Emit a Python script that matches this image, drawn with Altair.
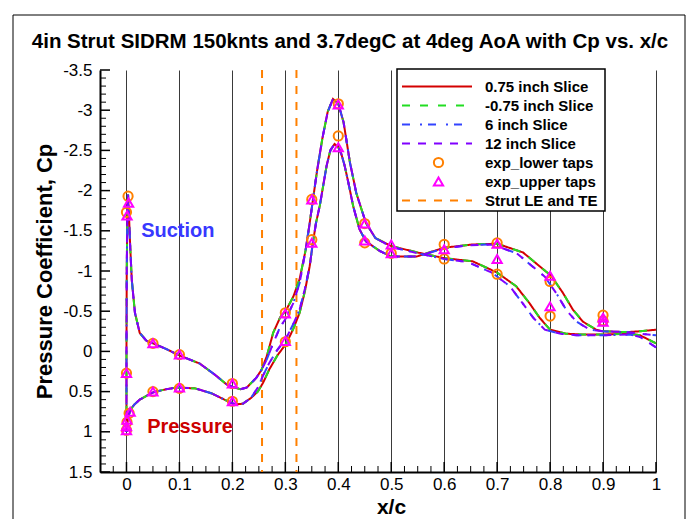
import altair as alt
import pandas as pd

FONT = "Liberation Sans"

TITLE = "4in Strut SIDRM 150knts and 3.7degC at 4deg AoA with Cp vs. x/c"
SERIES = ["0.75 inch Slice", "-0.75 inch Slice", "6 inch Slice", "12 inch Slice"]
LINE_COLORS = ["#d40000", "#22dd22", "#3344ff", "#8000ff"]
LINE_DASHES = [[1, 0], [8, 10], [8, 10, 2, 6], [8, 8]]
TAPS = ["exp_lower taps", "exp_upper taps"]
TAP_COLORS = ["#ff8000", "#ff00ff"]
TAP_SHAPES = ["circle", "triangle-up"]
STRUT_LABEL = "Strut LE and TE"

# ---- CFD slices: 0.75 / -0.75 inch (read as coincident) ----
near_suc_x = [1.0, 0.97, 0.95, 0.9, 0.86, 0.83, 0.8, 0.78, 0.761, 0.736, 0.7, 0.654, 0.6, 0.55,
              0.5, 0.47, 0.452, 0.434, 0.422, 0.41, 0.4, 0.39, 0.38, 0.37, 0.36, 0.352, 0.345,
              0.338, 0.327, 0.315, 0.302, 0.29, 0.277, 0.265, 0.255, 0.245, 0.227, 0.215, 0.2,
              0.189, 0.167, 0.138, 0.1, 0.075, 0.05, 0.038, 0.025, 0.016, 0.01, 0.007, 0.005,
              0.003, 0.0015, 0.0005, 0.0, 0.0, 0.0]
near_suc_cp = [-0.1, -0.2, -0.22, -0.21, -0.21, -0.22, -0.27, -0.42, -0.6, -0.81, -0.98, -1.12,
               -1.16, -1.23, -1.31, -1.41, -1.6, -1.97, -2.35, -2.85, -3.08, -3.14, -2.98, -2.65,
               -2.25, -1.88, -1.55, -1.25, -0.9, -0.68, -0.52, -0.42, -0.23, 0.06, 0.23, 0.33,
               0.45, 0.47, 0.44, 0.41, 0.29, 0.15, 0.05, -0.03, -0.1, -0.13, -0.23, -0.48, -0.89,
               -1.31, -1.65, -1.95, -1.6, -1.0, 0.0, 0.6, 1.0]
near_pre_x = [0.0, 0.001, 0.003, 0.007, 0.015, 0.025, 0.05, 0.075, 0.095, 0.13, 0.16, 0.185,
              0.205, 0.22, 0.235, 0.248, 0.258, 0.27, 0.285, 0.302, 0.315, 0.327, 0.337, 0.346,
              0.352, 0.358, 0.365, 0.372, 0.378, 0.385, 0.393, 0.4, 0.406, 0.412, 0.42, 0.428,
              0.44, 0.452, 0.478, 0.5, 0.548, 0.6, 0.654, 0.7, 0.749, 0.78, 0.802, 0.824, 0.843,
              0.862, 0.887, 0.9, 0.944, 0.97, 1.0]
near_pre_cp = [1.0, 0.93, 0.83, 0.73, 0.66, 0.6, 0.51, 0.47, 0.45, 0.46, 0.52, 0.6, 0.66, 0.65,
               0.58, 0.5, 0.39, 0.22, 0.05, -0.1, -0.28, -0.48, -0.75, -1.06, -1.35, -1.6, -1.81,
               -2.08, -2.31, -2.5, -2.58, -2.54, -2.45, -2.31, -2.07, -1.81, -1.52, -1.37, -1.25,
               -1.18, -1.18, -1.29, -1.33, -1.34, -1.23, -1.06, -0.94, -0.73, -0.52, -0.37, -0.27,
               -0.25, -0.24, -0.25, -0.27]

# ---- CFD slices: 6 / 12 inch (read as coincident) ----
far_suc_x = [1.0, 0.97, 0.95, 0.9, 0.85, 0.82, 0.79, 0.768, 0.748, 0.724, 0.69, 0.645, 0.6, 0.55,
             0.5, 0.47, 0.452, 0.434, 0.422, 0.41, 0.4, 0.39, 0.38, 0.37, 0.36, 0.352, 0.345,
             0.338, 0.327, 0.315, 0.302, 0.29, 0.277, 0.265, 0.255, 0.245, 0.227, 0.215, 0.2,
             0.189, 0.167, 0.138, 0.1, 0.075, 0.05, 0.038, 0.025, 0.016, 0.01, 0.007, 0.005,
             0.003, 0.0015, 0.0005, 0.0, 0.0, 0.0]
far_suc_cp = [-0.05, -0.18, -0.21, -0.2, -0.2, -0.22, -0.27, -0.42, -0.6, -0.81, -0.98, -1.11,
              -1.15, -1.22, -1.3, -1.41, -1.6, -1.97, -2.35, -2.85, -3.08, -3.14, -2.98, -2.65,
              -2.25, -1.88, -1.55, -1.25, -0.85, -0.6, -0.42, -0.3, -0.1, 0.1, 0.23, 0.33, 0.45,
              0.47, 0.44, 0.41, 0.29, 0.15, 0.05, -0.03, -0.1, -0.13, -0.23, -0.48, -0.89, -1.31,
              -1.65, -1.95, -1.6, -1.0, 0.0, 0.6, 1.0]
far_pre_x = [0.0, 0.001, 0.003, 0.007, 0.015, 0.025, 0.05, 0.075, 0.095, 0.13, 0.16, 0.185,
             0.205, 0.22, 0.235, 0.248, 0.258, 0.27, 0.285, 0.302, 0.315, 0.327, 0.337, 0.346,
             0.352, 0.358, 0.365, 0.372, 0.378, 0.385, 0.393, 0.4, 0.406, 0.412, 0.42, 0.428,
             0.44, 0.452, 0.478, 0.5, 0.548, 0.6, 0.645, 0.69, 0.737, 0.768, 0.79, 0.812, 0.831,
             0.85, 0.875, 0.9, 0.944, 0.97, 1.0]
far_pre_cp = [1.0, 0.93, 0.83, 0.73, 0.66, 0.6, 0.51, 0.47, 0.45, 0.46, 0.52, 0.6, 0.66, 0.65,
              0.58, 0.45, 0.3, 0.14, -0.02, -0.17, -0.34, -0.52, -0.78, -1.06, -1.35, -1.6, -1.81,
              -2.08, -2.31, -2.5, -2.58, -2.54, -2.45, -2.31, -2.07, -1.81, -1.52, -1.37, -1.25,
              -1.18, -1.18, -1.28, -1.32, -1.33, -1.22, -1.05, -0.93, -0.72, -0.51, -0.37, -0.27,
              -0.25, -0.24, -0.22, -0.2]

# ---- experimental taps ----
lower_x = [0.003, 0.0, 0.0, 0.005, 0.001, 0.0, 0.05, 0.05, 0.1, 0.1, 0.2, 0.2, 0.3, 0.3, 0.35,
           0.35, 0.4, 0.4, 0.45, 0.45, 0.5, 0.6, 0.6, 0.7, 0.7, 0.8, 0.8, 0.9, 0.9]
lower_cp = [-1.93, -1.73, 0.27, 0.77, 0.88, 0.98, -0.1, 0.5, 0.04, 0.46, 0.4, 0.62, -0.48, -0.12,
            -1.89, -1.39, -3.08, -2.68, -1.59, -1.35, -1.22, -1.33, -1.15, -1.35, -0.96, -0.87,
            -0.44, -0.45, -0.38]
upper_x = [0.004, 0.001, 0.0, 0.007, 0.001, 0.0, 0.0, 0.05, 0.05, 0.1, 0.1, 0.2, 0.2, 0.3, 0.3,
           0.35, 0.35, 0.4, 0.4, 0.45, 0.45, 0.5, 0.5, 0.6, 0.7, 0.7, 0.8, 0.8, 0.9, 0.9]
upper_cp = [-1.85, -1.69, 0.27, 0.75, 0.85, 0.93, 0.98, -0.1, 0.5, 0.04, 0.45, 0.4, 0.62, -0.47,
            -0.13, -1.89, -1.35, -3.07, -2.54, -1.59, -1.38, -1.33, -1.22, -1.27, -1.34, -1.15,
            -0.94, -0.56, -0.42, -0.37]

strut_x = [0.256, 0.321]

note_text = ["Suction", "Pressure"]
note_x = [0.097, 0.12]
note_cp = [-1.5, 0.94]

XT_MAJOR = [0, 0.1, 0.2, 0.3, 0.4, 0.5, 0.6, 0.7, 0.8, 0.9, 1]
XT_MINOR = [-0.025] + [round(i * 0.1 + k * 0.025, 3) for i in range(10) for k in (1, 2, 3)]
YT_MAJOR = [-3.5, -3, -2.5, -2, -1.5, -1, -0.5, 0, 0.5, 1, 1.5]
YT_MINOR = [round(-3.5 + i * 0.1, 2) for i in range(51) if i % 5 != 0]

W, H = 556, 402

xscale = alt.Scale(domain=[-0.05, 1.0], nice=False, zero=False)
yscale = alt.Scale(domain=[-3.5, 1.5], reverse=True, nice=False, zero=False)


def surf_df(name, xs, cps, surf):
    return pd.DataFrame({"x": xs, "cp": cps, "series": name, "surface": surf,
                         "idx": list(range(len(xs)))})


groups = {
    SERIES[0]: (near_suc_x, near_suc_cp, near_pre_x, near_pre_cp),
    SERIES[1]: (near_suc_x, near_suc_cp, near_pre_x, near_pre_cp),
    SERIES[2]: (far_suc_x, far_suc_cp, far_pre_x, far_pre_cp),
    SERIES[3]: (far_suc_x, far_suc_cp, far_pre_x, far_pre_cp),
}


def make_legend(lx, ly, stroke, label_offset, row_pad):
    kw = dict(orient="none", legendX=lx, legendY=ly, title=None, padding=0, clipHeight=15,
              symbolStrokeWidth=2, labelOffset=label_offset, rowPadding=row_pad, labelFont=FONT,
              labelFontSize=15, labelFontWeight="bold", labelColor="black", labelLimit=300)
    if stroke:
        kw.update(symbolType="stroke", symbolSize=4900)
    else:
        kw.update(symbolSize=85)
    return alt.Legend(**kw)


line_legend = make_legend(301, 9, True, 12, 3)
tap_legend = make_legend(331, 85, False, 39, 3)
strut_legend = make_legend(301, 123, True, 12, 3)

line_layers = []
for name in SERIES:
    sx, scp, px, pcp = groups[name]
    df = pd.concat([surf_df(name, sx, scp, "suction"), surf_df(name, px, pcp, "pressure")])
    line_layers.append(
        alt.Chart(df).mark_line(strokeWidth=2).encode(
            x=alt.X("x:Q", scale=xscale, axis=None),
            y=alt.Y("cp:Q", scale=yscale, axis=None),
            order="idx:Q",
            detail="surface:N",
            color=alt.Color("series:N", scale=alt.Scale(domain=SERIES, range=LINE_COLORS),
                            legend=line_legend),
            strokeDash=alt.StrokeDash("series:N",
                                      scale=alt.Scale(domain=SERIES, range=LINE_DASHES),
                                      legend=line_legend),
        )
    )
lines = alt.layer(*line_layers)

taps_df = pd.concat([
    pd.DataFrame({"x": lower_x, "cp": lower_cp, "tap": TAPS[0]}),
    pd.DataFrame({"x": upper_x, "cp": upper_cp, "tap": TAPS[1]}),
])
points = alt.Chart(taps_df).mark_point(filled=False, strokeWidth=2, size=85, opacity=1).encode(
    x=alt.X("x:Q", scale=xscale, axis=None),
    y=alt.Y("cp:Q", scale=yscale, axis=None),
    color=alt.Color("tap:N", scale=alt.Scale(domain=TAPS, range=TAP_COLORS), legend=tap_legend),
    shape=alt.Shape("tap:N", scale=alt.Scale(domain=TAPS, range=TAP_SHAPES), legend=tap_legend),
)

strut_df = pd.DataFrame({"x": strut_x, "lbl": STRUT_LABEL})
strut = alt.Chart(strut_df).mark_rule(strokeWidth=2).encode(
    x=alt.X("x:Q", scale=xscale, axis=None),
    color=alt.Color("lbl:N", scale=alt.Scale(domain=[STRUT_LABEL], range=["#ff8000"]),
                    legend=strut_legend),
    strokeDash=alt.StrokeDash("lbl:N", scale=alt.Scale(domain=[STRUT_LABEL], range=[[8, 8]]),
                              legend=strut_legend),
)

notes_df = pd.DataFrame({"x": note_x, "cp": note_cp, "t": note_text})


def note(i, color):
    return alt.Chart(notes_df.iloc[[i]]).mark_text(
        font=FONT, fontSize=20, fontWeight="bold", color=color, align="center",
        baseline="middle").encode(
        x=alt.X("x:Q", scale=xscale, axis=None),
        y=alt.Y("cp:Q", scale=yscale, axis=None), text="t:N")


note_suction = note(0, "#3838ff")
note_pressure = note(1, "#cc0000")

# ---- axes with labels ----
axis_df = pd.DataFrame({"x": [0.0, 1.0], "cp": [0.0, 0.0]})
lab_axes = alt.Chart(axis_df).mark_point(opacity=0).encode(
    x=alt.X("x:Q", scale=xscale, axis=alt.Axis(
        orient="bottom", values=XT_MAJOR, ticks=False, tickSize=0, labelPadding=4,
        labelExpr="'' + datum.value", labelFont=FONT, labelFontSize=17, labelColor="black",
        labelFlush=False, labelOverlap=False, domain=True, domainColor="black", domainWidth=2,
        grid=True, gridColor="#3a3a3a", gridWidth=1, title="x/c", titleFont=FONT,
        titleFontSize=21, titleFontWeight="bold", titleColor="black", titleX=291, titleY=35,
        titleAlign="center", titleBaseline="middle")),
    y=alt.Y("cp:Q", scale=yscale, axis=alt.Axis(
        orient="left", values=YT_MAJOR, ticks=False, tickSize=0, labelPadding=8,
        labelExpr="'' + datum.value", labelFont=FONT, labelFontSize=17, labelColor="black",
        labelFlush=False, labelOverlap=False, domain=True, domainColor="black", domainWidth=2,
        grid=False, title="Pressure Coefficient, Cp", titleFont=FONT, titleFontSize=22,
        titleFontWeight="bold", titleColor="black", titleX=-56, titleY=201, titleAngle=270,
        titleAlign="center", titleBaseline="middle")),
)


# ---- inward tick marks, placed through the scales ----
def xticks(vals, length, width):
    return alt.Chart(pd.DataFrame({"v": vals})).mark_rule(
        color="black", strokeWidth=width).encode(
        x=alt.X("v:Q", scale=xscale, axis=None), y=alt.value(H), y2=alt.value(H - length))


def yticks(vals, length, width):
    return alt.Chart(pd.DataFrame({"v": vals})).mark_rule(
        color="black", strokeWidth=width).encode(
        y=alt.Y("v:Q", scale=yscale, axis=None), x=alt.value(0), x2=alt.value(length))


ticks = [xticks(XT_MAJOR, 10, 1.5), xticks(XT_MINOR, 6, 1),
         yticks(YT_MAJOR, 10, 1.5), yticks(YT_MINOR, 6, 1)]

one = pd.DataFrame({"a": [0]})
frame = alt.Chart(one).mark_rect(fillOpacity=0, stroke="black", strokeWidth=1).encode(
    x=alt.value(-87), x2=alt.value(585), y=alt.value(-55), y2=alt.value(480))
legend_box = alt.Chart(one).mark_rect(fill="white", stroke="black", strokeWidth=1.5).encode(
    x=alt.value(297), x2=alt.value(505), y=alt.value(-1), y2=alt.value(141))

chart = alt.layer(
    frame, lab_axes, *ticks, strut, lines, points,
    note_suction, note_pressure, legend_box,
).resolve_scale(
    color="independent", strokeDash="independent", shape="independent"
).resolve_axis(
    x="independent", y="independent"
).properties(
    width=W, height=H,
    title=alt.TitleParams(TITLE, font=FONT, fontSize=20.5, fontWeight="bold", color="black",
                          anchor="middle", frame="group", dx=-28, dy=54, offset=16),
    autosize=alt.AutoSizeParams(type="none"),
    padding={"left": 92, "top": 62, "right": 30, "bottom": 47},
    background="white",
).configure_view(strokeWidth=0)

chart.save("out.html", embed_options={"renderer": "svg", "actions": False})
